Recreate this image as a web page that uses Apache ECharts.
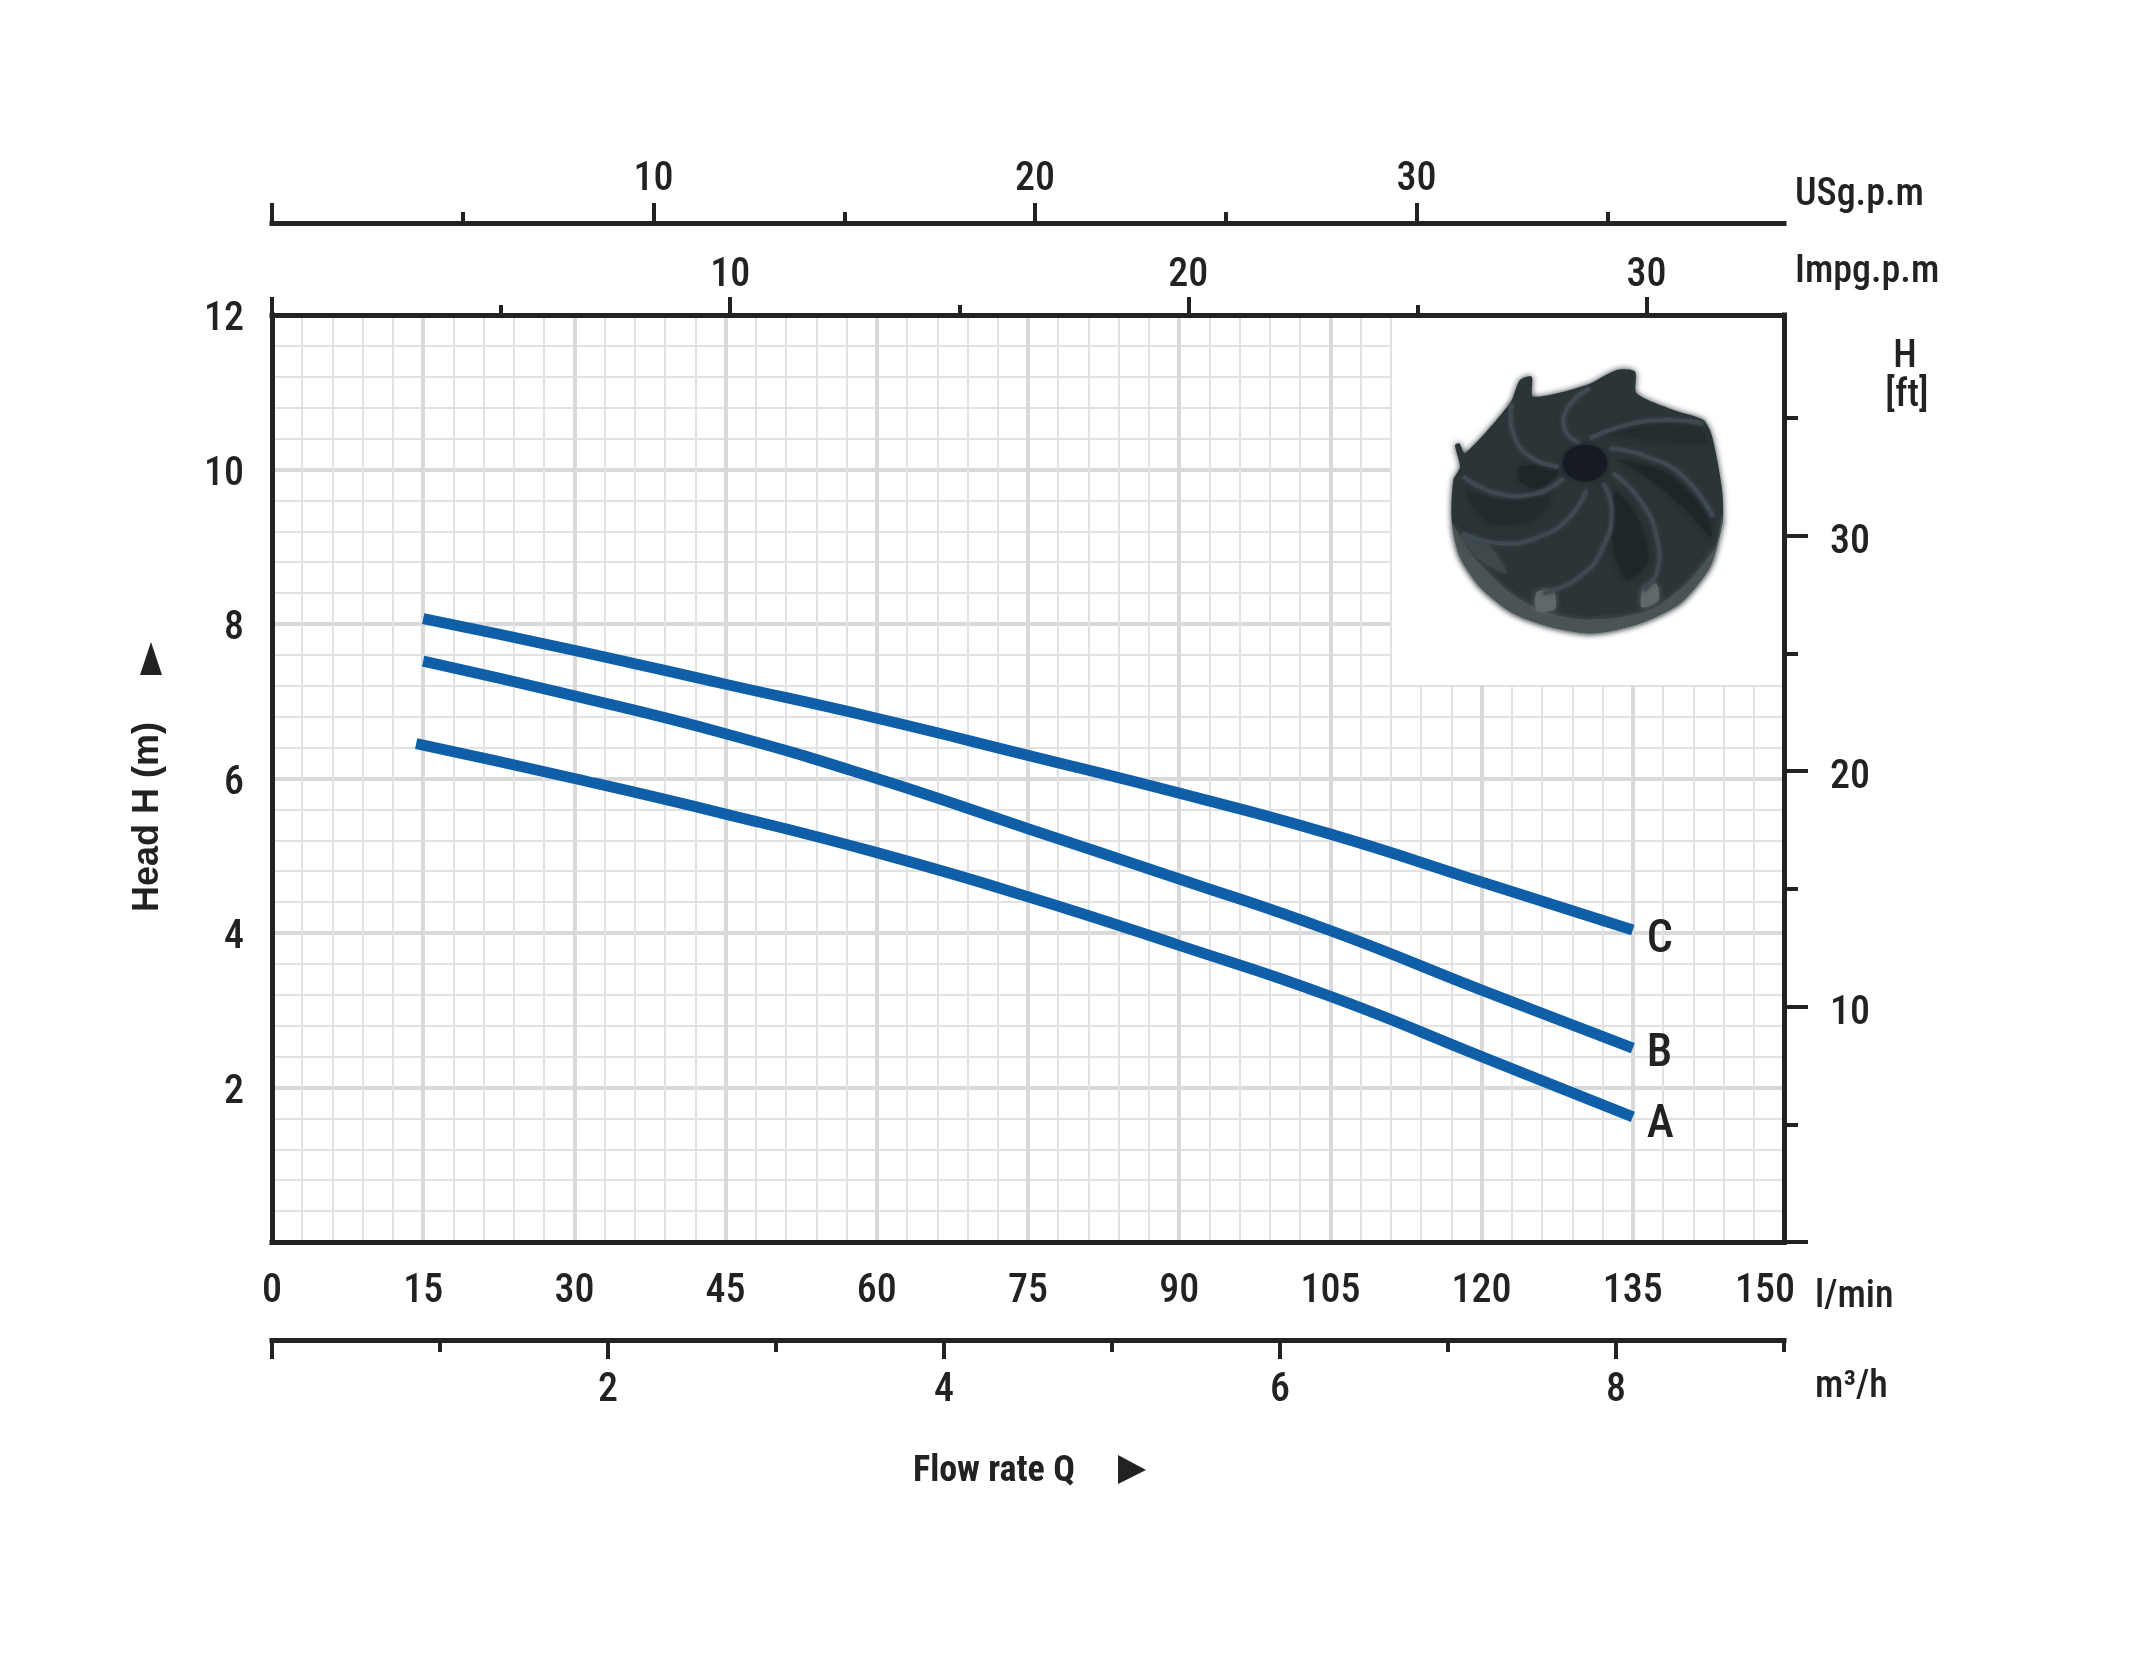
<!DOCTYPE html>
<html>
<head>
<meta charset="utf-8">
<script src="https://cdn.jsdelivr.net/npm/echarts@6/dist/echarts.min.js"></script>
<style>
html, body { margin: 0; padding: 0; background: #fff; }
#main { width: 2150px; height: 1660px; }
</style>
</head>
<body>
<div id="main"></div>
<script>
// curves: flow in l/min, head in m
var flow = [15, 30, 45, 60, 75, 90, 105, 120, 135];
var flowA = [14.3, 30, 45, 60, 75, 90, 105, 120, 135];
var headA = [6.45, 6.0, 5.54, 5.04, 4.47, 3.84, 3.18, 2.40, 1.62];
var headB = [7.52, 7.07, 6.58, 6.0, 5.35, 4.70, 4.03, 3.26, 2.51];
var headC = [8.07, 7.66, 7.22, 6.78, 6.30, 5.81, 5.28, 4.66, 4.04];

// scales of the secondary axes (all cover 0-150 l/min, 0-12 m)
var usgMax = 39.63, usgMajor = [0, 10, 20, 30], usgMinor = [5, 15, 25, 35], usgLabels = [10, 20, 30];
var impMax = 33, impMajor = [0, 10, 20, 30], impMinor = [5, 15, 25], impLabels = [10, 20, 30];
var m3Max = 9, m3Major = [0, 2, 4, 6, 8], m3Minor = [1, 3, 5, 7, 9], m3Labels = [2, 4, 6, 8];
var ftMax = 39.37, ftMajor = [0, 10, 20, 30], ftMinor = [5, 15, 25, 35], ftLabels = [10, 20, 30];
var headLabels = [2, 4, 6, 8, 10, 12];

var INK = '#222';
var FONT = '"Roboto Condensed", "Liberation Sans", sans-serif';
var lineStyle = { color: INK, width: 5, cap: 'square' };
var labelStyle = { color: INK, fontFamily: FONT, fontSize: 40, fontWeight: 500 };

var myChart = echarts.init(document.getElementById('main'));

// label nudged away from its tick, the picture's labels sit a little low
function shifted(padding) {
    return {
        formatter: function (v) { return '{s|' + v + '}'; },
        rich: { s: Object.assign({ padding: padding }, labelStyle) }
    };
}

// a secondary scale: line, ticks at the given values, optional labels
function scaleAxis(o) {
    return {
        type: 'value', position: o.position, offset: o.offset || 0, min: 0, max: o.max, z: 5,
        splitLine: { show: false },
        axisLine: { show: o.line !== false, onZero: false, lineStyle: lineStyle },
        axisTick: { show: true, inside: false, length: o.tick, customValues: o.ticks, lineStyle: { color: INK, width: 4 } },
        axisLabel: o.labels ? Object.assign({ show: true, margin: o.margin, customValues: o.labels }, labelStyle, o.padding ? shifted(o.padding) : {}) : { show: false }
    };
}

function gridAxis(max, interval) {
    return {
        type: 'value', min: 0, max: max, interval: interval, z: 0,
        axisLine: { show: false }, axisTick: { show: false }, axisLabel: { show: false },
        minorTick: { show: false, splitNumber: 5 },
        splitLine: { show: true, lineStyle: { color: '#d9d9d9', width: 4 } },
        minorSplitLine: { show: true, lineStyle: { color: '#e2e2e2', width: 2 } }
    };
}

function curve(name, xs, ys, dy) {
    return {
        name: name, type: 'line', xAxisIndex: 0, yAxisIndex: 0, z: 6,
        smooth: true, symbol: 'none', animation: false,
        lineStyle: { color: '#0f5fa8', width: 11, cap: 'butt' },
        data: xs.map(function (x, i) { return [x, ys[i]]; }),
        endLabel: { show: true, formatter: '{a}', distance: 14, offset: [0, dy], color: INK, fontFamily: FONT, fontSize: 46, fontWeight: 500 }
    };
}

// impeller photo, redrawn with shapes; coordinates from a 3x crop at (1440,360)
function imp(pts) {
    return pts.map(function (p) { return [1440 + p[0] / 3, 360 + p[1] / 3]; });
}
function impFill(pts, color, z) {
    return { type: 'polygon', z: z, silent: true, shape: { points: imp(pts), smooth: 0.25 }, style: { fill: color, shadowBlur: 6, shadowColor: color } };
}
function impBlade(pts) {
    return { type: 'polyline', z: 13, silent: true, shape: { points: imp(pts), smooth: 0.5 }, style: { stroke: '#3f4a4e', lineWidth: 4, fill: null, shadowBlur: 4, shadowColor: '#3f4a4e' } };
}
function txt(text, x, y, o) {
    return {
        type: 'text', x: x, y: y, z: 14, rotation: (o && o.rotation) || 0,
        style: {
            text: text, fill: INK, align: (o && o.align) || 'left', verticalAlign: 'middle',
            font: ((o && o.weight) || '500') + ' ' + ((o && o.size) || 38) + 'px ' + ((o && o.family) || FONT)
        }
    };
}

var graphics = [
    // blank panel behind the photo
    { type: 'rect', z: 1, silent: true, shape: { x: 1392, y: 317, width: 390, height: 368 }, style: { fill: '#fff' } },
    impFill([[45, 255], [58, 250], [75, 280], [210, 130], [240, 60], [275, 50], [280, 110], [440, 75], [530, 30], [585, 35], [590, 100], [700, 150], [790, 180], [815, 225], [845, 380], [848, 480], [810, 620], [720, 730], [600, 790], [460, 820], [330, 800], [220, 760], [120, 680], [60, 590], [35, 480], [40, 360], [60, 320]], '#2b3437', 10),
    impFill([[60, 530], [110, 600], [200, 690], [300, 750], [420, 778], [540, 772], [640, 745], [740, 670], [825, 560], [846, 470], [848, 490], [810, 620], [720, 730], [600, 790], [460, 820], [330, 800], [220, 760], [120, 680], [60, 590], [38, 490]], '#4a5457', 11),
    impFill([[290, 697], [340, 692], [345, 748], [290, 752]], '#5f696b', 12),
    impFill([[610, 682], [650, 672], [655, 722], [605, 742]], '#5f696b', 12),
    impFill([[60, 525], [150, 560], [200, 640], [120, 600]], '#3f494c', 11),
    impFill([[525, 395], [590, 470], [625, 600], [560, 660], [520, 560]], '#1e262a', 11),
    impFill([[540, 300], [680, 340], [790, 450], [815, 530], [730, 440], [620, 350]], '#1e262a', 11),
    impFill([[240, 320], [355, 330], [300, 385], [240, 365]], '#1e262a', 11),
    impFill([[80, 400], [180, 420], [330, 410], [280, 480], [150, 490]], '#222b2e', 11),
    impFill([[470, 215], [600, 190], [770, 200], [800, 250], [650, 240]], '#232c2f', 11),
    impBlade([[420, 250], [375, 210], [385, 140], [450, 85]]),
    impBlade([[450, 235], [560, 195], [680, 180], [790, 190]]),
    impBlade([[510, 265], [620, 290], [730, 350], [820, 470]]),
    impBlade([[520, 340], [600, 420], [650, 530], [650, 640], [610, 690]]),
    impBlade([[490, 370], [515, 450], [490, 560], [420, 650], [310, 700]]),
    impBlade([[440, 390], [390, 470], [300, 530], [180, 550], [70, 520]]),
    impBlade([[370, 355], [290, 400], [170, 400], [70, 350]]),
    impBlade([[355, 320], [270, 290], [220, 220], [215, 130]]),
    // hub of the impeller
    { type: 'circle', z: 14, silent: true, scaleY: 0.82, originX: 1585, originY: 463, shape: { cx: 1585, cy: 463, r: 22 }, style: { fill: '#151b20', shadowBlur: 4, shadowColor: '#151b20' } },
    // axis captions
    txt('USg.p.m', 1795, 195),
    txt('Impg.p.m', 1795, 272),
    txt('H', 1905, 357, { align: 'center' }),
    txt('[ft]', 1907, 396, { align: 'center' }),
    txt('l/min', 1815, 1297),
    txt('m\u00b3/h', 1815, 1387),
    txt('Flow rate Q', 913, 1472, { weight: 'bold', size: 36 }),
    txt('Head H (m)', 148, 817, { align: 'center', rotation: Math.PI / 2, weight: 'bold', size: 36, family: '"Liberation Sans", sans-serif' }),
    { type: 'polygon', z: 14, silent: true, shape: { points: [[1118, 1455], [1146, 1470], [1118, 1484]] }, style: { fill: INK } },
    { type: 'polygon', z: 14, silent: true, shape: { points: [[151, 642], [162, 675], [140, 675]] }, style: { fill: INK } }
];

var option = {
    animation: false,
    backgroundColor: '#fff',
    grid: { left: 272, top: 315, width: 1512, height: 927 },
    graphic: { elements: graphics },
    xAxis: [
        gridAxis(150, 15),
        {
            type: 'value', position: 'bottom', min: 0, max: 150, interval: 15, z: 5,
            splitLine: { show: false }, axisTick: { show: false },
            axisLine: { show: true, onZero: false, lineStyle: lineStyle },
            axisLabel: Object.assign({
                margin: 30,
                // the last label stands left of its gridline
                formatter: function (v) { return v === 150 ? '{last|150}' : '' + v; },
                rich: { last: Object.assign({ padding: [0, 38, 0, 0] }, labelStyle) }
            }, labelStyle)
        },
        scaleAxis({ position: 'top', max: impMax, ticks: impMajor, labels: impLabels, tick: 18, margin: 19 }),
        scaleAxis({ position: 'top', max: impMax, ticks: impMinor, tick: 10, line: false }),
        scaleAxis({ position: 'top', offset: 92, max: usgMax, ticks: usgMajor, labels: usgLabels, tick: 20, margin: 23 }),
        scaleAxis({ position: 'top', offset: 92, max: usgMax, ticks: usgMinor, tick: 11, line: false }),
        scaleAxis({ position: 'bottom', offset: 98, max: m3Max, ticks: m3Major, labels: m3Labels, tick: 19, margin: 31 }),
        scaleAxis({ position: 'bottom', offset: 98, max: m3Max, ticks: m3Minor, tick: 12, line: false })
    ],
    yAxis: [
        gridAxis(12, 2),
        scaleAxis({ position: 'left', max: 12, ticks: [], labels: headLabels, tick: 0, margin: 28, padding: [10, 0, 0, 0] }),
        scaleAxis({ position: 'right', max: ftMax, ticks: ftMajor, labels: ftLabels, tick: 24, margin: 46, padding: [14, 0, 0, 0] }),
        scaleAxis({ position: 'right', max: ftMax, ticks: ftMinor, tick: 14, line: false })
    ],
    series: [
        curve('A', flowA, headA, 9),
        curve('B', flow, headB, 6),
        curve('C', flow, headC, 11)
    ]
};

myChart.setOption(option);
</script>
</body>
</html>
